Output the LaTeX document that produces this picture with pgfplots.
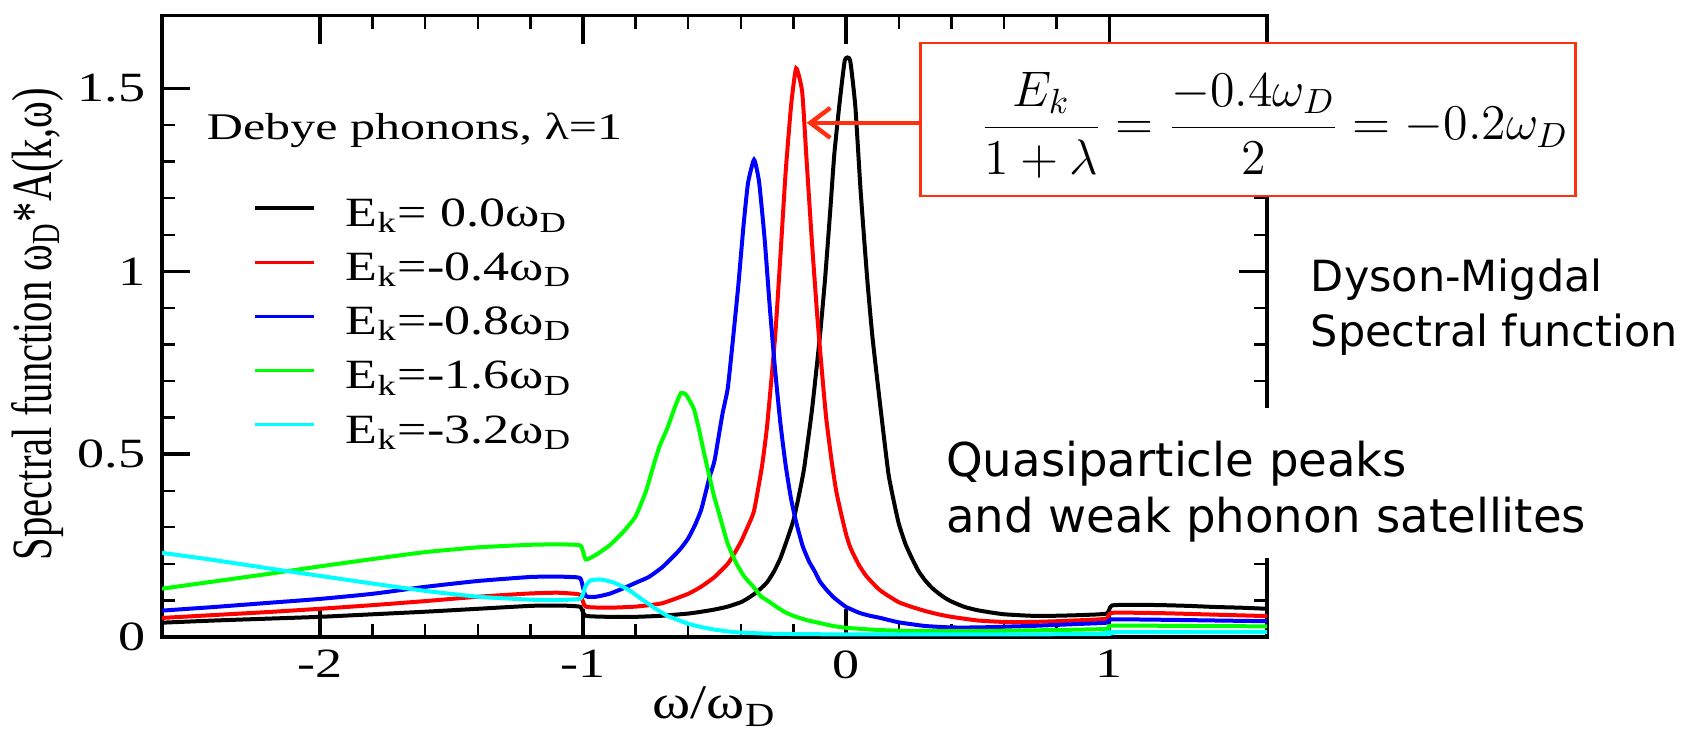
\RequirePackage{fix-cm}
\documentclass[border=0pt]{standalone}
\usepackage{fontspec}
\setmainfont{Liberation Serif}
\newfontfamily\comic{DejaVu Sans}
\usepackage{graphicx}
\usepackage{pgfplots}
\pgfplotsset{compat=1.18}
\usetikzlibrary{arrows.meta}
\definecolor{boxred}{RGB}{255,48,16}
\definecolor{pcyan}{RGB}{0,255,255}
\definecolor{pgreen}{RGB}{0,255,0}
\definecolor{pred}{RGB}{255,0,0}
\definecolor{pblue}{RGB}{0,0,255}
\newcommand\hs[1]{\scalebox{1.3}[1]{#1}}
\newcommand\hl[1]{\scalebox{1.25}[1]{#1}}
\begin{document}
\begin{tikzpicture}
\begin{scope}[x=0.3pt,y=-0.3pt,xshift=-48.24pt,yshift=191.25pt]
\path[use as bounding box] (0,0) rectangle (1684,740);
\end{scope}
\begin{axis}[
  at={(0pt,0pt)}, anchor=south west,
  scale only axis, width=331.8pt, height=186.66pt,
  xmin=-2.6, xmax=1.6, ymin=0, ymax=1.7,
  xtick={-2,-1,0,1}, xticklabels={\hs{-2},\hs{-1},\hs{0},\hs{1}},
  ytick={0,0.5,1,1.5}, yticklabels={\hs{0},\hs{0.5},\hs{1},\hs{1.5}},
  minor x tick num=4, minor y tick num=4,
  tick align=inside,
  major tick length=8.5pt, minor tick length=4pt,
  every major tick/.append style={line width=1pt, black},
  every minor tick/.append style={line width=0.7pt, black},
  axis line style={line width=1pt},
  tick label style={font=\fontsize{12.5}{14}\selectfont},
  yticklabel style={xshift=-1.5pt},
  xticklabel style={yshift=-0.5pt},
  xlabel={\scalebox{1.2}[1]{ω/ω\textsubscript{D}}},
  xlabel style={at={(axis description cs:0.5,-0.112)}, anchor=center, font=\fontsize{14.5}{16}\selectfont},
  ylabel={\scalebox{1}[1.4]{Spectral function ω\textsubscript{D}*A(k,ω)}},
  ylabel style={at={(axis description cs:-0.113,0.503)}, anchor=center, font=\fontsize{12.2}{14}\selectfont},
  legend cell align=left,
  legend style={draw=none, fill=none, at={(axis description cs:0.0822,0.5022)}, anchor=west,
    inner sep=0pt, outer sep=0pt, row sep=4.26pt, font=\fontsize{12.5}{14}\selectfont,
    nodes={inner sep=0pt, text height=9pt, text depth=3pt}},
  legend image code/.code={\draw[#1, line width=1pt] (0pt,2.5pt) -- (17.7pt,2.5pt); \path (0pt,0pt) (26.7pt,0pt);},
  every axis plot/.append style={smooth, tension=0.3, line width=1.2pt},
]
\addplot[black] coordinates {
(-2.6,0.039) (-2.4,0.045) (-2.2,0.050) (-2.0,0.055) (-1.8,0.062) (-1.6,0.069) (-1.4,0.077) (-1.2,0.085) (-1.1,0.086) (-1.05,0.085) (-1.01,0.082) (-0.99,0.058) (-0.9,0.055) (-0.8,0.055) (-0.7,0.058) (-0.6,0.064) (-0.55,0.069) (-0.5,0.075) (-0.45,0.083) (-0.4,0.095) (-0.375,0.105) (-0.35,0.117) (-0.325,0.132) (-0.3,0.150) (-0.275,0.178) (-0.25,0.215) (-0.225,0.265) (-0.2,0.32) (-0.18,0.385) (-0.16,0.46) (-0.13,0.62) (-0.1,0.82) (-0.08,0.98) (-0.06,1.17) (-0.045,1.32) (-0.025,1.46) (-0.005,1.577) (0.015,1.577) (0.035,1.45) (0.055,1.22) (0.08,0.98) (0.1,0.82) (0.13,0.63) (0.16,0.45) (0.18,0.375) (0.2,0.31) (0.225,0.255) (0.25,0.215) (0.275,0.18) (0.3,0.155) (0.325,0.135) (0.35,0.12) (0.375,0.107) (0.4,0.097) (0.45,0.082) (0.5,0.073) (0.55,0.067) (0.6,0.062) (0.7,0.058) (0.8,0.058) (0.9,0.060) (0.99,0.064) (1.01,0.086) (1.1,0.088) (1.2,0.087) (1.3,0.085) (1.4,0.082) (1.5,0.080) (1.6,0.077)};
\addlegendentry{\hl{E\textsubscript{k}= 0.0ω\textsubscript{D}}}
\addplot[pred] coordinates {
(-2.6,0.052) (-2.4,0.060) (-2.2,0.068) (-2.0,0.077) (-1.8,0.087) (-1.6,0.098) (-1.4,0.110) (-1.2,0.119) (-1.1,0.121) (-1.05,0.119) (-1.01,0.115) (-0.99,0.083) (-0.9,0.080) (-0.8,0.083) (-0.7,0.092) (-0.6,0.118) (-0.55,0.138) (-0.5,0.164) (-0.45,0.200) (-0.425,0.228) (-0.4,0.26) (-0.375,0.30) (-0.35,0.345) (-0.32,0.466) (-0.3,0.58) (-0.27,0.82) (-0.25,1.04) (-0.23,1.27) (-0.209,1.455) (-0.19,1.555) (-0.167,1.49) (-0.15,1.30) (-0.13,1.08) (-0.11,0.88) (-0.095,0.75) (-0.076,0.60) (-0.055,0.48) (-0.038,0.40) (-0.02,0.34) (0.0,0.28) (0.013,0.25) (0.025,0.23) (0.05,0.195) (0.075,0.168) (0.1,0.148) (0.125,0.13) (0.15,0.117) (0.2,0.095) (0.25,0.082) (0.3,0.071) (0.35,0.062) (0.4,0.055) (0.5,0.045) (0.6,0.041) (0.7,0.041) (0.8,0.043) (0.9,0.046) (0.99,0.050) (1.01,0.066) (1.2,0.065) (1.4,0.061) (1.6,0.057)};
\addlegendentry{\hl{E\textsubscript{k}=-0.4ω\textsubscript{D}}}
\addplot[pblue] coordinates {
(-2.6,0.072) (-2.4,0.082) (-2.2,0.093) (-2.0,0.104) (-1.8,0.118) (-1.6,0.137) (-1.4,0.153) (-1.2,0.164) (-1.1,0.165) (-1.05,0.164) (-1.01,0.160) (-0.99,0.112) (-0.95,0.110) (-0.9,0.118) (-0.85,0.132) (-0.8,0.148) (-0.75,0.164) (-0.7,0.19) (-0.65,0.225) (-0.625,0.245) (-0.6,0.27) (-0.575,0.305) (-0.55,0.35) (-0.52,0.435) (-0.5,0.483) (-0.47,0.61) (-0.45,0.68) (-0.43,0.815) (-0.41,0.96) (-0.39,1.125) (-0.373,1.241) (-0.35,1.305) (-0.331,1.245) (-0.31,1.09) (-0.29,0.90) (-0.27,0.73) (-0.25,0.585) (-0.23,0.47) (-0.21,0.38) (-0.19,0.314) (-0.165,0.248) (-0.14,0.205) (-0.12,0.18) (-0.1,0.152) (-0.076,0.13) (-0.05,0.11) (-0.03,0.098) (0.0,0.082) (0.05,0.066) (0.09,0.058) (0.13,0.052) (0.2,0.040) (0.3,0.030) (0.4,0.026) (0.5,0.026) (0.6,0.028) (0.7,0.030) (0.8,0.033) (0.9,0.036) (0.99,0.039) (1.01,0.048) (1.2,0.047) (1.4,0.045) (1.6,0.043)};
\addlegendentry{\hl{E\textsubscript{k}=-0.8ω\textsubscript{D}}}
\addplot[pgreen] coordinates {
(-2.6,0.132) (-2.4,0.152) (-2.2,0.172) (-2.0,0.193) (-1.8,0.213) (-1.6,0.232) (-1.4,0.245) (-1.2,0.252) (-1.1,0.253) (-1.01,0.250) (-0.99,0.212) (-0.95,0.225) (-0.9,0.250) (-0.85,0.285) (-0.8,0.33) (-0.76,0.40) (-0.74,0.45) (-0.71,0.52) (-0.68,0.57) (-0.65,0.63) (-0.628,0.667) (-0.609,0.663) (-0.59,0.64) (-0.578,0.622) (-0.56,0.57) (-0.54,0.503) (-0.52,0.44) (-0.502,0.385) (-0.48,0.33) (-0.451,0.257) (-0.42,0.205) (-0.388,0.166) (-0.35,0.135) (-0.324,0.111) (-0.3,0.10) (-0.26,0.08) (-0.23,0.067) (-0.198,0.057) (-0.15,0.046) (-0.1,0.038) (-0.05,0.030) (0.0,0.025) (0.1,0.020) (0.2,0.017) (0.4,0.016) (0.6,0.017) (0.8,0.019) (0.99,0.022) (1.01,0.031) (1.3,0.030) (1.6,0.029)};
\addlegendentry{\hl{E\textsubscript{k}=-1.6ω\textsubscript{D}}}
\addplot[pcyan] coordinates {
(-2.6,0.230) (-2.4,0.210) (-2.2,0.188) (-2.0,0.167) (-1.8,0.146) (-1.6,0.126) (-1.4,0.110) (-1.2,0.102) (-1.1,0.101) (-1.01,0.105) (-0.99,0.140) (-0.97,0.155) (-0.93,0.157) (-0.88,0.148) (-0.83,0.130) (-0.78,0.105) (-0.73,0.080) (-0.68,0.058) (-0.6,0.036) (-0.55,0.027) (-0.5,0.020) (-0.45,0.015) (-0.4,0.012) (-0.3,0.009) (-0.2,0.008) (0.0,0.007) (0.5,0.007) (0.99,0.008) (1.01,0.013) (1.6,0.013)};
\addlegendentry{\hl{E\textsubscript{k}=-3.2ω\textsubscript{D}}}
\end{axis}
\begin{scope}[x=0.3pt,y=-0.3pt,xshift=-48.24pt,yshift=191.25pt]
\node[anchor=base west, inner sep=0pt, font=\fontsize{11.3}{13}\selectfont] at (205,140) {\scalebox{1.33}[1]{Debye phonons, λ=1}};
\fill[white] (915,408) rectangle (1290,558);
\node[anchor=base west, inner sep=0pt, font=\comic\fontsize{14}{16}\selectfont] at (945,476.7) {Quasiparticle peaks};
\node[anchor=base west, inner sep=0pt, font=\comic\fontsize{14}{16}\selectfont] at (945,533.3) {and weak phonon satellites};
\node[anchor=base west, inner sep=0pt, font=\comic\fontsize{12.9}{15}\selectfont] at (1310,291.7) {Dyson-Migdal};
\node[anchor=base west, inner sep=0pt, font=\comic\fontsize{12.9}{15}\selectfont] at (1310,346.7) {Spectral function};
\draw[draw=boxred, line width=0.7pt, fill=white] (920,43) rectangle (1575.5,196.5);
\draw[boxred, line width=1.3pt, -{Straight Barb[length=6pt,width=9pt]}] (920,123) -- (806,123);
\node[inner sep=0pt, font=\fontsize{15}{18}\selectfont] at (1274,125) {$\displaystyle\frac{E_k}{1+\lambda}=\frac{-0.4\omega_D}{2}=-0.2\omega_D$};
\end{scope}
\end{tikzpicture}
\end{document}
